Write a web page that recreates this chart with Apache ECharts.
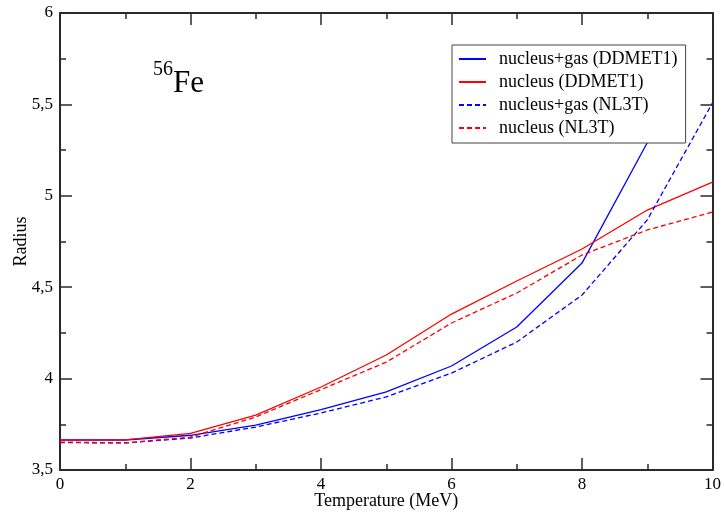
<!DOCTYPE html>
<html><head><meta charset="utf-8">
<script src="https://cdn.jsdelivr.net/npm/echarts@6/dist/echarts.min.js"></script>
<style>html,body{margin:0;padding:0;background:#fff}#c{width:724px;height:516px}</style>
</head><body><div id="c"></div>
<script>
const temperature = [0,1,2,3,4,5,6,7,8,9,10];
const gasDDMET1 = [3.664,3.664,3.69,3.745,3.83,3.927,4.069,4.282,4.632,5.29,null];
const nucDDMET1 = [3.665,3.665,3.70,3.80,3.954,4.129,4.353,4.534,4.709,4.922,5.075];
const gasNL3T = [3.65,3.648,3.675,3.735,3.812,3.90,4.03,4.20,4.457,4.868,5.508];
const nucNL3T = [3.653,3.648,3.68,3.79,3.94,4.09,4.304,4.468,4.676,4.813,4.911];
const seriesNames = ['nucleus+gas (DDMET1)','nucleus (DDMET1)','nucleus+gas (NL3T)','nucleus (NL3T)'];
const xTitle = 'Temperature (MeV)';
const yTitle = 'Radius';

const font = 'Liberation Serif';
const axisCol = '#2a2a2a';
const pair = a => temperature.map((t,i)=>[t,a[i]]);
const comma = v => String(v).replace('.', ',');

const tickCommon = {
  axisLine:{onZero:false, lineStyle:{color:axisCol,width:2}},
  axisTick:{inside:true,length:12,lineStyle:{color:axisCol,width:1.5}},
  minorTick:{show:true,splitNumber:2,length:6,lineStyle:{color:axisCol,width:1.5}},
  splitLine:{show:false}
};
const xBase = () => Object.assign({type:'value', min:0, max:10, interval:2}, JSON.parse(JSON.stringify(tickCommon)));
const yBase = () => Object.assign({type:'value', min:3.5, max:6, interval:0.5}, JSON.parse(JSON.stringify(tickCommon)));

const chart = echarts.init(document.getElementById('c'));
chart.setOption({
  animation:false,
  grid:{left:60,right:10,top:13,bottom:46},
  xAxis:[
    Object.assign(xBase(), {position:'bottom',
      axisLabel:{color:'#000',fontFamily:font,fontSize:17,margin:6},
      name:xTitle,nameLocation:'middle',nameGap:22,nameMoveOverlap:false,
      nameTextStyle:{color:'#000',fontFamily:font,fontSize:18}}),
    Object.assign(xBase(), {position:'top', axisLabel:{show:false}})
  ],
  yAxis:[
    Object.assign(yBase(), {position:'left',
      axisLabel:{color:'#000',fontFamily:font,fontSize:17,margin:7,formatter:comma},
      name:yTitle,nameLocation:'middle',nameGap:30,nameMoveOverlap:false,
      nameTextStyle:{color:'#000',fontFamily:font,fontSize:18}}),
    Object.assign(yBase(), {position:'right', axisLabel:{show:false}})
  ],
  legend:{
    orient:'vertical', left:452, top:45,
    backgroundColor:'#fff', borderColor:'#444', borderWidth:1,
    padding:[5,8,6,6], itemWidth:27, itemHeight:14, itemGap:5,
    itemStyle:{opacity:0},
    textStyle:{fontFamily:font,fontSize:18,lineHeight:18,color:'#000',padding:[0,0,0,8]},
    data: seriesNames
  },
  graphic:[
    {type:'text', left:153, top:60, style:{text:'56', font:'20px "Liberation Serif"', fill:'#000'}},
    {type:'text', left:173, top:68, style:{text:'Fe', font:'31px "Liberation Serif"', fill:'#000'}}
  ],
  series:[
    {name:seriesNames[0], type:'line', data:pair(gasDDMET1), showSymbol:false, symbol:'none', clip:true,
      lineStyle:{color:'#0000ff',width:1.3,type:'solid'}, itemStyle:{color:'#0000ff'}},
    {name:seriesNames[1], type:'line', data:pair(nucDDMET1), showSymbol:false, symbol:'none', clip:true,
      lineStyle:{color:'#ff0000',width:1.3,type:'solid'}, itemStyle:{color:'#ff0000'}},
    {name:seriesNames[2], type:'line', data:pair(gasNL3T), showSymbol:false, symbol:'none', clip:true,
      lineStyle:{color:'#0000ff',width:1.3,type:[5,3]}, itemStyle:{color:'#0000ff'}},
    {name:seriesNames[3], type:'line', data:pair(nucNL3T), showSymbol:false, symbol:'none', clip:true,
      lineStyle:{color:'#ff0000',width:1.3,type:[5,3]}, itemStyle:{color:'#ff0000'}}
  ]
});
</script></body></html>
